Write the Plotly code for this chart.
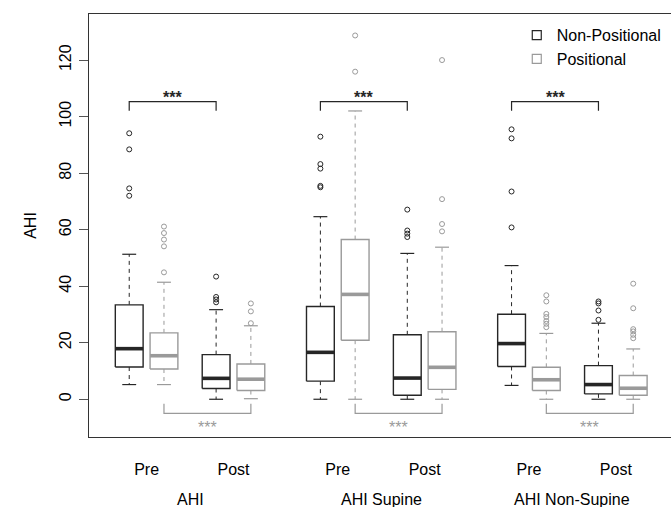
import plotly.graph_objects as go

# ---------------- data ----------------
groups = ["AHI", "AHI Supine", "AHI Non-Supine"]
times = ["Pre", "Post"]
series_names = ["Non-Positional", "Positional"]

# order: AHI Pre, AHI Post, Supine Pre, Supine Post, Non-Supine Pre, Non-Supine Post
np_low = [5.2, 0.0, 0.0, 0.0, 4.9, 0.0]
np_q1 = [11.4, 3.8, 6.4, 1.4, 11.6, 1.9]
np_med = [17.9, 7.4, 16.6, 7.5, 19.7, 5.2]
np_q3 = [33.4, 15.8, 32.8, 22.8, 30.1, 11.9]
np_high = [51.3, 31.7, 64.6, 51.6, 47.3, 26.9]
np_out = [[94.1, 88.4, 74.6, 72.0],
          [43.4, 36.2, 35.3, 34.3],
          [92.9, 83.2, 81.6, 75.5, 75.0],
          [67.1, 59.7, 58.6, 57.4],
          [95.5, 92.3, 73.5, 60.8],
          [34.6, 33.9, 31.4, 28.1]]

p_low = [5.2, 0.2, 0.0, 0.0, 0.0, 0.0]
p_q1 = [10.7, 3.1, 20.9, 3.5, 3.1, 1.4]
p_med = [15.4, 7.1, 37.1, 11.3, 6.9, 3.9]
p_q3 = [23.5, 12.5, 56.5, 23.9, 11.3, 8.4]
p_high = [41.4, 26.0, 102.0, 53.8, 23.3, 17.8]
p_out = [[61.1, 58.8, 56.5, 54.1, 44.9],
         [33.9, 31.1, 26.9],
         [128.7, 115.9],
         [120.0, 70.8, 62.0, 59.4],
         [36.8, 34.6, 30.2, 29.1, 27.7, 26.7, 25.5],
         [40.9, 32.2, 24.8, 24.0, 22.8, 21.6]]

y_ticks = [0, 20, 40, 60, 80, 100, 120]
sig_label = "***"

# ---------------- layout helpers ----------------
np_pos = [1, 3.5, 6.5, 9, 12, 14.5]
p_pos = [x + 1 for x in np_pos]
HALF = 0.4
STAP = 0.2

BLACK = "#262626"
GRAY = "#9a9a9a"

fig = go.Figure()


def add_series(pos, low, q1, med, q3, high, outs, color, name):
    bx, by, mx, my, wx, wy, sx, sy, ox, oy = [], [], [], [], [], [], [], [], [], []
    for i, x in enumerate(pos):
        bx += [x - HALF, x + HALF, x + HALF, x - HALF, x - HALF, None]
        by += [q1[i], q1[i], q3[i], q3[i], q1[i], None]
        mx += [x - HALF, x + HALF, None]
        my += [med[i], med[i], None]
        wx += [x, x, None, x, x, None]
        wy += [q3[i], high[i], None, q1[i], low[i], None]
        sx += [x - STAP, x + STAP, None, x - STAP, x + STAP, None]
        sy += [high[i], high[i], None, low[i], low[i], None]
        for v in outs[i]:
            ox.append(x)
            oy.append(v)
    fig.add_trace(go.Scatter(x=wx, y=wy, mode="lines", showlegend=False, hoverinfo="skip",
                             line=dict(color=color, width=1, dash="4px,4px")))
    fig.add_trace(go.Scatter(x=sx, y=sy, mode="lines", showlegend=False, hoverinfo="skip",
                             line=dict(color=color, width=1.2)))
    fig.add_trace(go.Scatter(x=bx, y=by, mode="lines", showlegend=False, hoverinfo="skip",
                             fill="toself", fillcolor="white",
                             line=dict(color=color, width=1.4)))
    fig.add_trace(go.Scatter(x=mx, y=my, mode="lines", showlegend=False, hoverinfo="skip",
                             line=dict(color=color, width=3.6)))
    fig.add_trace(go.Scatter(x=ox, y=oy, mode="markers", showlegend=False, name=name,
                             marker=dict(symbol="circle-open", size=5, color=color,
                                         line=dict(width=1, color=color))))
    fig.add_trace(go.Scatter(x=[None], y=[None], mode="markers", name=name, showlegend=True,
                             marker=dict(symbol="square-open", size=9, color=color,
                                         line=dict(width=1.2, color=color))))


add_series(np_pos, np_low, np_q1, np_med, np_q3, np_high, np_out, BLACK, series_names[0])
add_series(p_pos, p_low, p_q1, p_med, p_q3, p_high, p_out, GRAY, series_names[1])

# significance brackets
TOP_BAR, TOP_END, TOP_TXT = 105.3, 102.1, 106.8
BOT_BAR, BOT_END, BOT_TXT = -5.0, -1.6, -9.9
for g in range(3):
    a, b = np_pos[2 * g], np_pos[2 * g + 1]
    fig.add_trace(go.Scatter(x=[a, a, b, b], y=[TOP_END, TOP_BAR, TOP_BAR, TOP_END], mode="lines",
                             showlegend=False, hoverinfo="skip", line=dict(color=BLACK, width=1.2)))
    fig.add_annotation(x=(a + b) / 2, y=TOP_TXT, text="<b>" + sig_label + "</b>", showarrow=False,
                       font=dict(size=16, color=BLACK, family="Liberation Sans"), yanchor="middle")
    c, d = p_pos[2 * g], p_pos[2 * g + 1]
    fig.add_trace(go.Scatter(x=[c, c, d, d], y=[BOT_END, BOT_BAR, BOT_BAR, BOT_END], mode="lines",
                             showlegend=False, hoverinfo="skip", line=dict(color=GRAY, width=1.2)))
    fig.add_annotation(x=(c + d) / 2, y=BOT_TXT, text=sig_label, showarrow=False,
                       font=dict(size=16, color=GRAY, family="Liberation Sans"), yanchor="middle")

# group labels
for g in range(3):
    mid = (np_pos[2 * g] + p_pos[2 * g + 1]) / 2
    fig.add_annotation(x=mid, y=-0.147, xref="x", yref="paper", text=groups[g], showarrow=False,
                       font=dict(size=16, color="black"), yanchor="middle")

tick_vals = []
tick_text = []
for i in range(6):
    tick_vals.append((np_pos[i] + p_pos[i]) / 2)
    tick_text.append(times[i % 2])

fig.update_layout(
    width=671, height=507,
    margin=dict(l=89, r=0, t=14, b=70),
    paper_bgcolor="white", plot_bgcolor="white",
    font=dict(family="Liberation Sans, Arial, sans-serif", size=16, color="black"),
    showlegend=True,
    legend=dict(x=0.735, y=0.99, xanchor="left", yanchor="top", bgcolor="rgba(0,0,0,0)",
                font=dict(size=16), itemwidth=30, tracegroupgap=0),
    xaxis=dict(range=[-0.157, 16.587], showgrid=False, zeroline=False,
               showline=True, linecolor="#333", linewidth=1, mirror=True,
               tickvals=tick_vals, ticktext=tick_text, ticks="", ticklabelstandoff=18,
               tickfont=dict(size=16)),
    yaxis=dict(range=[-13.35, 136.3], showgrid=False, zeroline=False,
               showline=True, linecolor="#333", linewidth=1,
               tickvals=y_ticks, ticks="outside", ticklen=9, tickcolor="#555",
               tickangle=-90, tickfont=dict(size=16), ticklabelstandoff=2,
               title=dict(text="AHI", font=dict(size=16), standoff=15)),
)

fig.write_html("out.html", config={"displayModeBar": False},
               post_script="document.body.style.margin='0';")
